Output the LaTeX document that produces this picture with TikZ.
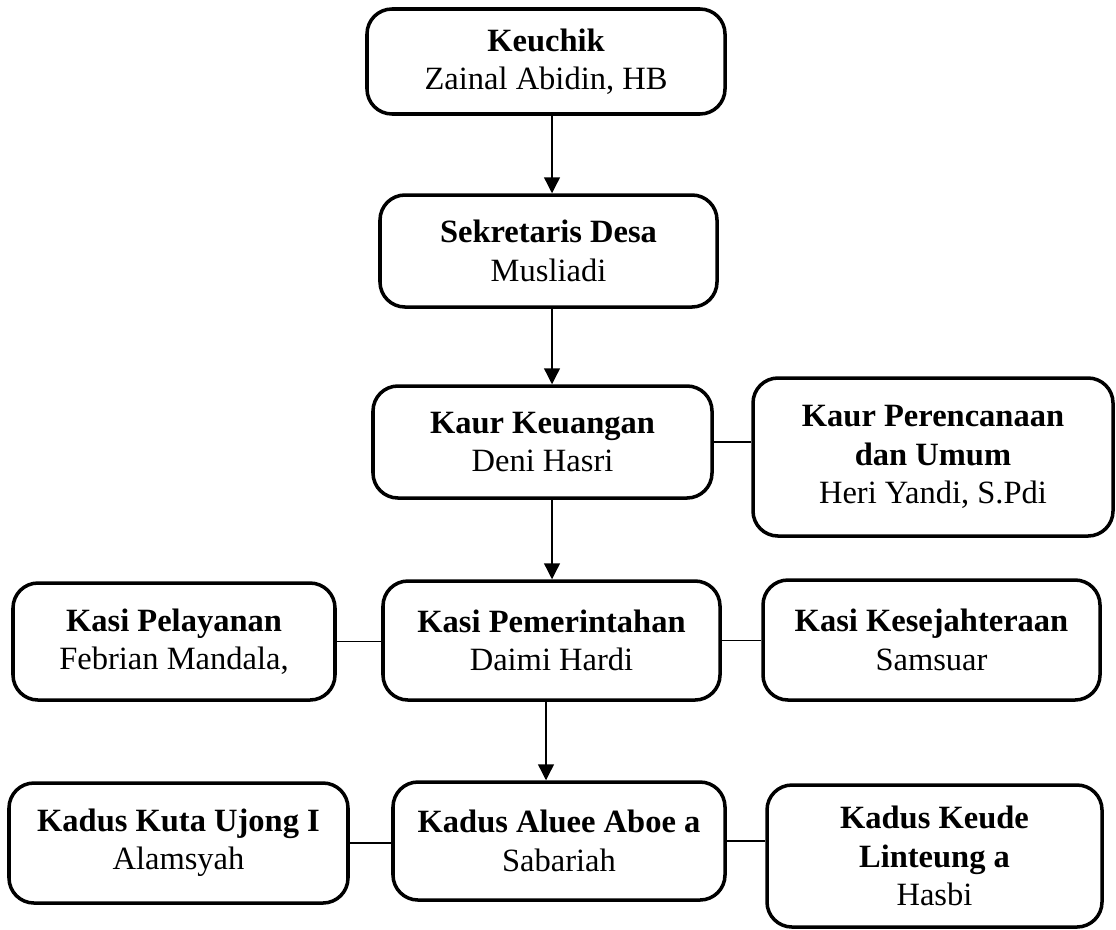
\documentclass[tikz,border=0pt]{standalone}
\usepackage{fontspec}
\setmainfont{Liberation Serif}
\usetikzlibrary{arrows.meta}

\begin{document}
\begin{tikzpicture}[
  box/.style={draw, line width=2pt, rounded corners=0.5cm, align=center,
    inner sep=2pt, font=\fontsize{18.5}{21.8}\selectfont},
  link/.style={line width=0.75pt},
  down/.style={line width=0.75pt, -{Triangle[width=9pt,length=9pt]}}]
  \useasboundingbox (0,0) rectangle (22.32,-18.58);
  \node[box, minimum width=7.16cm, minimum height=2.10cm] (keuchik) at (10.92,-1.23) {\textbf{Keuchik}\\Zainal Abidin, HB};
  \node[box, minimum width=6.74cm, minimum height=2.24cm] (sekdes) at (10.97,-5.02) {\textbf{Sekretaris Desa}\\Musliadi};
  \node[box, minimum width=6.78cm, minimum height=2.24cm] (kaurkeu) at (10.85,-8.84) {\textbf{Kaur Keuangan}\\Deni Hasri};
  \node[box, minimum width=7.20cm, minimum height=3.16cm] (kaurren) at (18.66,-9.14) {\textbf{Kaur Perencanaan}\\\textbf{dan Umum}\\Heri Yandi, S.Pdi};
  \node[box, minimum width=6.44cm, minimum height=2.34cm] (kasiyan) at (3.48,-12.83) {\textbf{Kasi Pelayanan}\\Febrian Mandala,};
  \node[box, minimum width=6.74cm, minimum height=2.38cm] (kasipem) at (11.03,-12.81) {\textbf{Kasi Pemerintahan}\\Daimi Hardi};
  \node[box, minimum width=6.74cm, minimum height=2.40cm] (kasikes) at (18.63,-12.80) {\textbf{Kasi Kesejahteraan}\\Samsuar};
  \node[box, minimum width=6.78cm, minimum height=2.40cm] (kaduskuta) at (3.57,-16.86) {\textbf{Kadus Kuta Ujong I}\\Alamsyah};
  \node[box, minimum width=6.64cm, minimum height=2.36cm] (kadusaluee) at (11.18,-16.82) {\textbf{Kadus Aluee Aboe a}\\Sabariah};
  \node[box, minimum width=6.70cm, minimum height=2.84cm] (kaduskeude) at (18.69,-17.12) {\textbf{Kadus Keude}\\\textbf{Linteung a}\\Hasbi};
  \coordinate (spine) at (11.04,0);
  \coordinate (spinelow) at (10.92,0);
  \draw[down] (keuchik.south -| spine) -- (sekdes.north -| spine);
  \draw[down] (sekdes.south -| spine) -- (kaurkeu.north -| spine);
  \draw[down] (kaurkeu.south -| spine) -- (kasipem.north -| spine);
  \draw[down] (kasipem.south -| spinelow) -- (kadusaluee.north -| spinelow);
  \draw[link] (kaurkeu.east) -- (kaurkeu.east -| kaurren.west);
  \draw[link] (kasiyan.east) -- (kasiyan.east -| kasipem.west);
  \draw[link] (kasipem.east) -- (kasipem.east -| kasikes.west);
  \draw[link] (kaduskuta.east) -- (kaduskuta.east -| kadusaluee.west);
  \draw[link] (kadusaluee.east) -- (kadusaluee.east -| kaduskeude.west);
\end{tikzpicture}
\end{document}
